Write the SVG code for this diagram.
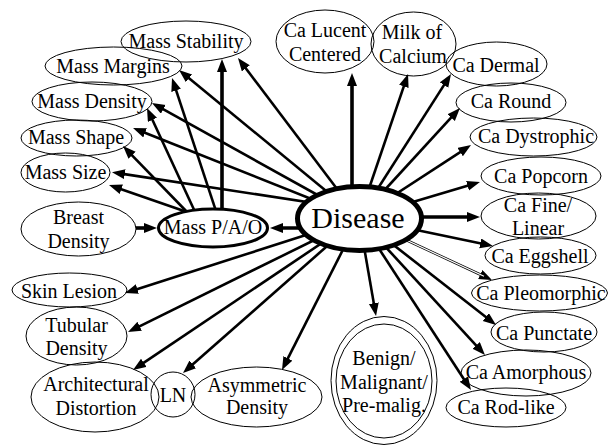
<svg xmlns="http://www.w3.org/2000/svg" width="609" height="446" viewBox="0 0 609 446" font-family="Liberation Serif, Times New Roman, DejaVu Serif, serif">
<style>
.n{fill:none;stroke:#000;stroke-width:1}
.t{font-size:20px;text-anchor:middle;fill:#000}
.e{stroke:#000;stroke-width:2.6;fill:none;marker-end:url(#ah)}
.ex{stroke:#000;stroke-width:3.6;fill:none;marker-end:url(#ah)}
</style>
<defs>
<marker id="ah" markerUnits="userSpaceOnUse" markerWidth="14" markerHeight="11" refX="7" refY="5" orient="auto">
<path d="M0,0 L13,5 L0,10 z" fill="#000"/>
</marker>
</defs>
<rect width="609" height="446" fill="#fff"/>
<g id="connectors">
<line class="e" x1="359" y1="218" x2="241.6" y2="62.8"/>
<line class="e" x1="359" y1="218" x2="183.6" y2="73.8"/>
<line class="e" x1="359" y1="218" x2="157.2" y2="105.9"/>
<line class="e" x1="359" y1="218" x2="138.6" y2="130.2"/>
<line class="e" x1="359" y1="210" x2="117.9" y2="173.1"/>
<line class="ex" x1="320" y1="228" x2="276" y2="228"/>
<line class="e" x1="359" y1="218" x2="130.7" y2="291.2"/>
<line class="e" x1="359" y1="218" x2="133.4" y2="329.3"/>
<line class="e" x1="359" y1="218" x2="138" y2="366.7"/>
<line class="e" x1="359" y1="218" x2="187.5" y2="369"/>
<line class="e" x1="359" y1="218" x2="284.7" y2="364.6"/>
<line class="e" x1="359" y1="218" x2="375" y2="310.1"/>
<line class="e" x1="359" y1="218" x2="467.7" y2="385"/>
<line class="e" x1="359" y1="218" x2="480.9" y2="350.6"/>
<line class="e" x1="359" y1="218" x2="491.3" y2="321.3"/>
<line class="e" x1="359" y1="218" x2="486.6" y2="277.5" stroke-width="3.4"/>
<line x1="359" y1="218" x2="484" y2="276.3" stroke="#fff" stroke-width="1.2"/>
<line class="e" x1="359" y1="218" x2="487.1" y2="244.8"/>
<line class="ex" x1="359" y1="217" x2="474" y2="217"/>
<line class="e" x1="359" y1="218" x2="474.2" y2="183.7"/>
<line class="e" x1="359" y1="218" x2="466" y2="148.3"/>
<line class="e" x1="359" y1="218" x2="455.9" y2="112.4"/>
<line class="e" x1="359" y1="218" x2="447.8" y2="79.1"/>
<line class="e" x1="359" y1="218" x2="406.1" y2="79.7"/>
<line class="ex" x1="352" y1="200" x2="352" y2="79"/>
<line class="ex" x1="222" y1="215" x2="222" y2="65"/>
<line class="e" x1="217.5" y1="215.6" x2="173.9" y2="83.7"/>
<line class="e" x1="196" y1="214" x2="149.5" y2="113.5"/>
<line class="e" x1="189" y1="214" x2="127.2" y2="150.3"/>
<line class="e" x1="184" y1="211" x2="114.7" y2="187"/>
<line class="ex" x1="136" y1="228" x2="151" y2="228"/>
</g>
<g id="disease">
<ellipse cx="359.5" cy="218.5" rx="62" ry="32" fill="#fff" stroke="#000" stroke-width="5"/>
<text class="t" x="358" y="228" font-size="30" style="font-size:30px">Disease</text>
</g>
<g id="mass-pao">
<ellipse cx="213" cy="228" rx="54.5" ry="19" fill="#fff" stroke="#000" stroke-width="3"/>
<text class="t" x="213" y="234">Mass P/A/O</text>
</g>
<g id="breast-density">
<ellipse class="n" cx="78.5" cy="229" rx="57.5" ry="27"/>
<text class="t" x="78.5" y="224">Breast</text>
<text class="t" x="78.5" y="248">Density</text>
</g>
<g id="mass-stability">
<ellipse class="n" cx="186" cy="41.5" rx="65" ry="20.5"/>
<text class="t" x="186" y="48">Mass Stability</text>
</g>
<g id="mass-margins">
<ellipse class="n" cx="113.5" cy="66" rx="68.5" ry="19"/>
<text class="t" x="113" y="73">Mass Margins</text>
</g>
<g id="mass-density">
<ellipse class="n" cx="92" cy="101.5" rx="60" ry="19.5"/>
<text class="t" x="92" y="108">Mass Density</text>
</g>
<g id="mass-shape">
<ellipse class="n" cx="76.5" cy="138" rx="55.5" ry="18"/>
<text class="t" x="76" y="144">Mass Shape</text>
</g>
<g id="mass-size">
<ellipse class="n" cx="65.5" cy="172.5" rx="44.5" ry="19.5"/>
<text class="t" x="65.5" y="179">Mass Size</text>
</g>
<g id="skin-lesion">
<ellipse class="n" cx="69.5" cy="290" rx="57.5" ry="17"/>
<text class="t" x="69" y="298">Skin Lesion</text>
</g>
<g id="tubular-density">
<ellipse class="n" cx="76.5" cy="336" rx="50.5" ry="29"/>
<text class="t" x="76.5" y="332">Tubular</text>
<text class="t" x="76.5" y="355">Density</text>
</g>
<g id="architectural-distortion">
<ellipse class="n" cx="95" cy="397" rx="64" ry="35"/>
<text class="t" x="96" y="391">Architectural</text>
<text class="t" x="96" y="415">Distortion</text>
</g>
<g id="ln">
<ellipse class="n" cx="173" cy="394.5" rx="22" ry="22.5"/>
<text class="t" x="173" y="402">LN</text>
</g>
<g id="asymmetric-density">
<ellipse class="n" cx="256.5" cy="397" rx="65.5" ry="30"/>
<text class="t" x="257" y="392">Asymmetric</text>
<text class="t" x="257" y="414">Density</text>
</g>
<g id="benign-malignant">
<ellipse class="n" cx="384" cy="380.5" rx="53" ry="64"/>
<ellipse class="n" cx="384" cy="381" rx="48" ry="57"/>
<text class="t" x="384" y="365">Benign/</text>
<text class="t" x="384" y="389">Malignant/</text>
<text class="t" x="384" y="412">Pre-malig.</text>
</g>
<g id="ca-rod-like">
<ellipse class="n" cx="506" cy="407.5" rx="60" ry="19.5"/>
<text class="t" x="506" y="414">Ca Rod-like</text>
</g>
<g id="ca-amorphous">
<ellipse class="n" cx="526" cy="373" rx="65" ry="23"/>
<text class="t" x="526" y="379">Ca Amorphous</text>
</g>
<g id="ca-punctate">
<ellipse class="n" cx="544" cy="332" rx="53" ry="20"/>
<text class="t" x="544" y="340">Ca Punctate</text>
</g>
<g id="ca-pleomorphic">
<ellipse class="n" cx="539.5" cy="293" rx="68" ry="18"/>
<text class="t" x="541" y="300">Ca Pleomorphic</text>
</g>
<g id="ca-eggshell">
<ellipse class="n" cx="540.5" cy="255.5" rx="55.5" ry="18.5"/>
<text class="t" x="540" y="263">Ca Eggshell</text>
</g>
<g id="ca-fine-linear">
<ellipse class="n" cx="538.5" cy="216" rx="57.5" ry="23"/>
<text class="t" x="538" y="212">Ca Fine/</text>
<text class="t" x="538" y="235">Linear</text>
</g>
<g id="ca-popcorn">
<ellipse class="n" cx="541" cy="176" rx="60" ry="19"/>
<text class="t" x="541" y="183">Ca Popcorn</text>
</g>
<g id="ca-dystrophic">
<ellipse class="n" cx="533.5" cy="137" rx="63.5" ry="19"/>
<text class="t" x="536" y="143">Ca Dystrophic</text>
</g>
<g id="ca-round">
<ellipse class="n" cx="511" cy="102.5" rx="55" ry="19.5"/>
<text class="t" x="511" y="108">Ca Round</text>
</g>
<g id="ca-dermal">
<ellipse class="n" cx="496.5" cy="64" rx="50.5" ry="22"/>
<text class="t" x="496" y="72">Ca Dermal</text>
</g>
<g id="milk-of-calcium">
<ellipse class="n" cx="413.5" cy="44" rx="42.5" ry="32"/>
<text class="t" x="412" y="39">Milk of</text>
<text class="t" x="413" y="63">Calcium</text>
</g>
<g id="ca-lucent-centered">
<ellipse class="n" cx="325" cy="41.5" rx="49" ry="31.5"/>
<text class="t" x="325" y="37">Ca Lucent</text>
<text class="t" x="325" y="61">Centered</text>
</g>
</svg>
